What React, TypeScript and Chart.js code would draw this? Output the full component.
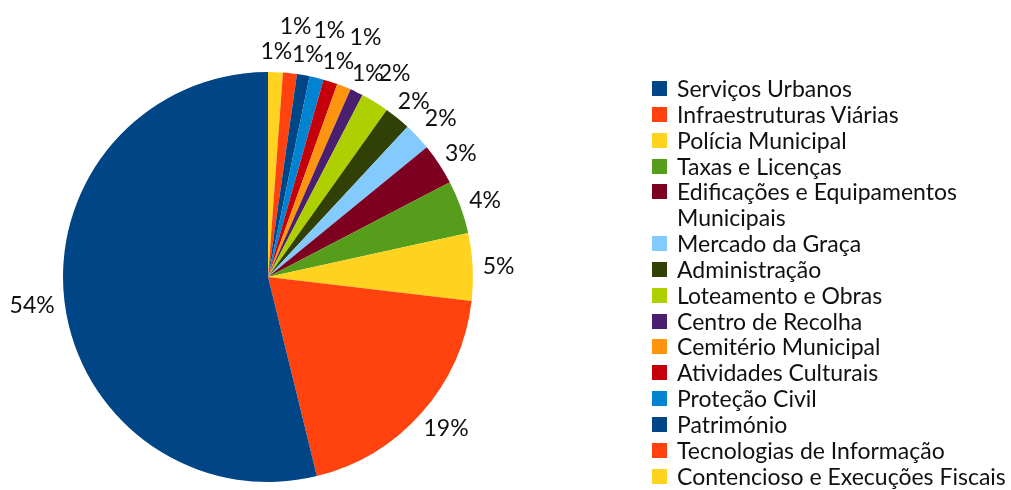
import React, { useEffect, useRef } from "react";
import { Chart, registerables } from "chart.js";

Chart.register(...registerables);

// Legend order (as shown in the reference legend)
const categories: string[] = [
  "Serviços Urbanos",
  "Infraestruturas Viárias",
  "Polícia Municipal",
  "Taxas e Licenças",
  "Edificações e Equipamentos Municipais",
  "Mercado da Graça",
  "Administração",
  "Loteamento e Obras",
  "Centro de Recolha",
  "Cemitério Municipal",
  "Atividades Culturais",
  "Proteção Civil",
  "Património",
  "Tecnologias de Informação",
  "Contencioso e Execuções Fiscais",
];

const values: number[] = [
  53.8, 19.3, 5.3, 4.2, 3.25, 2.19, 2.08, 2.2, 1.03, 1.11, 1.125, 1.11, 0.99, 1.1, 1.16,
];

const colors: string[] = [
  "#004586",
  "#ff420e",
  "#ffd320",
  "#579d1c",
  "#7e0021",
  "#83caff",
  "#314004",
  "#aecf00",
  "#4b1f6f",
  "#ff950e",
  "#c5000b",
  "#0084d1",
  "#004586",
  "#ff420e",
  "#ffd320",
];

const FONT = "Lato, 'Open Sans', sans-serif";
const LABEL_SIZE = 23;
const LEGEND_SIZE = 23;

const labelPlugin = {
  id: "outsideLabels",
  afterDatasetsDraw(chart: any) {
    const ctx = chart.ctx as CanvasRenderingContext2D;
    const meta = chart.getDatasetMeta(0);
    const data = chart.data.datasets[0].data as number[];
    const total = data.reduce((a, b) => a + b, 0);
    ctx.save();
    ctx.font = `${LABEL_SIZE}px ${FONT}`;
    ctx.fillStyle = "#111";
    ctx.textAlign = "center";
    ctx.textBaseline = "middle";
    const placed: { x: number; y: number; w: number; h: number }[] = [];
    const GAP = 10;
    const H = 24;
    meta.data.forEach((arc: any, i: number) => {
      const p = arc.getProps(["x", "y", "startAngle", "endAngle", "outerRadius"], true);
      const mid = (p.startAngle + p.endAngle) / 2;
      const dx = Math.cos(mid);
      const dy = Math.sin(mid);
      const text = Math.round((data[i] / total) * 100) + "%";
      const w = ctx.measureText(text).width;
      let r = p.outerRadius + GAP;
      let cx = 0;
      let cy = 0;
      for (let k = 0; k < 300; k++) {
        cx = p.x + dx * r + (dx * w) / 2;
        cy = p.y + dy * r + (dy * H) / 2;
        const overlap = placed.some(
          (q) => Math.abs(q.x - cx) < (q.w + w) / 2 - 5 && Math.abs(q.y - cy) < (q.h + H) / 2
        );
        if (!overlap) break;
        r += 1;
      }
      placed.push({ x: cx, y: cy, w, h: H });
      ctx.fillText(text, cx, cy + 1);
    });
    ctx.restore();
  },
};

export default function App() {
  const canvasRef = useRef<HTMLCanvasElement | null>(null);

  useEffect(() => {
    document.body.style.margin = "0";
    const canvas = canvasRef.current;
    if (!canvas) return;
    // Slices are drawn clockwise from 12 o'clock in reverse legend order
    const revLabels = [...categories].reverse();
    const revValues = [...values].reverse();
    const revColors = [...colors].reverse();
    const chart = new Chart(canvas, {
      type: "pie",
      data: {
        labels: revLabels,
        datasets: [
          {
            data: revValues,
            backgroundColor: revColors,
            borderWidth: 0,
          },
        ],
      },
      options: {
        responsive: false,
        animation: false,
        layout: { padding: { left: 63, right: 538, top: 72, bottom: 8 } },
        plugins: {
          legend: { display: false },
          tooltip: { enabled: false },
        },
      },
      plugins: [labelPlugin],
    });
    return () => chart.destroy();
  }, []);

  return (
    <div
      style={{
        position: "absolute",
        left: 0,
        top: 0,
        width: 1011,
        height: 490,
        background: "#fff",
        overflow: "hidden",
      }}
    >
      <canvas ref={canvasRef} width={1011} height={490} style={{ position: "absolute", left: 0, top: 0 }} />
      <div
        style={{
          position: "absolute",
          left: 652,
          top: 76,
          width: 359,
          fontFamily: FONT,
          fontSize: LEGEND_SIZE,
          lineHeight: "25.85px",
          color: "#111",
        }}
      >
        {categories.map((c, i) => (
          <div key={c} style={{ position: "relative", paddingLeft: 25, whiteSpace: i === 4 ? "normal" : "nowrap" }}>
            <span
              style={{
                position: "absolute",
                left: 0,
                top: 5,
                width: 15,
                height: 15,
                background: colors[i],
              }}
            />
            <span>{c}</span>
          </div>
        ))}
      </div>
    </div>
  );
}
